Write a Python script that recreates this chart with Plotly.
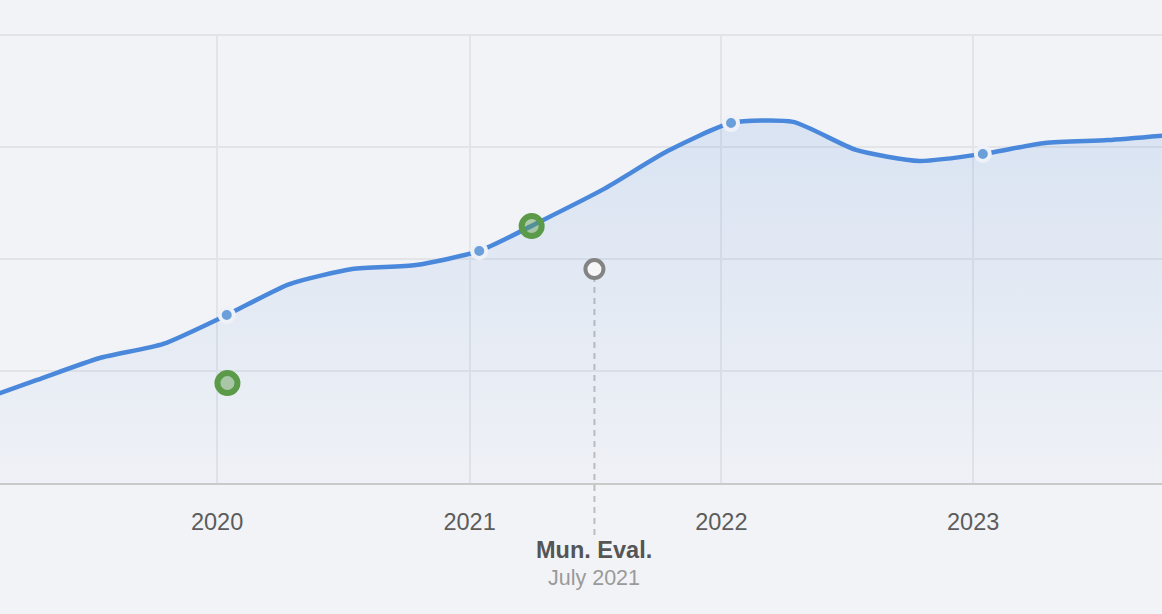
import plotly.graph_objects as go

# ---- data ----
dates = [
    "2019-01-15", "2019-04-15", "2019-07-15", "2019-10-15",
    "2020-01-15", "2020-04-15", "2020-07-15", "2020-10-15",
    "2021-01-15", "2021-04-15", "2021-07-15", "2021-10-15",
    "2022-01-15", "2022-04-15", "2022-07-15", "2022-10-15",
    "2023-01-15", "2023-04-15", "2023-07-15", "2023-10-15",
]
values = [
    36.2, 46.0, 55.8, 62.1,
    75.0, 88.8, 95.5, 97.3,
    103.6, 117.0, 131.3, 148.2,
    160.7, 161.2, 148.7, 143.8,
    146.9, 151.8, 153.1, 155.4,
]
# yearly checkpoints (January readings)
check_dates = [d for d in dates if d[5:7] == "01" and d >= "2020"]
check_values = [v for d, v in zip(dates, values) if d[5:7] == "01" and d >= "2020"]

green_dates = ["2020-01-16", "2021-04-01"]
green_values = [44.6, 114.7]

eval_date = "2021-07-01"
eval_value = 95.5
eval_label = "Mun. Eval."
eval_sub = "July 2021"

tick_vals = ["2020-01-01", "2021-01-01", "2022-01-01", "2023-01-01"]
tick_text = ["2020", "2021", "2022", "2023"]

Y_MAX = 200
X_RANGE = ["2019-02-20 07:00", "2023-10-01 18:00"]

BG = "#f2f3f6"
BLUE = "#4a88dc"
GRID = "#e2e4e8"
PLOT_H = 614 - 35 - 131  # plot area height in px

fig = go.Figure()

fig.add_trace(go.Scatter(
    x=dates, y=values, mode="lines",
    line=dict(color=BLUE, width=4.5, shape="spline", smoothing=0.6),
    fill="tozeroy",
    fillgradient=dict(
        type="vertical",
        start=0, stop=165,
        colorscale=[[0, "rgba(74,136,220,0.02)"], [1, "rgba(74,136,220,0.15)"]],
    ),
    hoverinfo="skip", showlegend=False,
))

fig.add_trace(go.Scatter(
    x=check_dates, y=check_values, mode="markers",
    marker=dict(size=14, color="#6a9fd9", line=dict(color="#eef2f8", width=4)),
    hoverinfo="skip", showlegend=False,
))

fig.add_trace(go.Scatter(
    x=green_dates, y=green_values, mode="markers",
    marker=dict(size=20, color="rgba(90,154,72,0.45)", line=dict(color="#5a9a48", width=6)),
    hoverinfo="skip", showlegend=False,
))

fig.add_trace(go.Scatter(
    x=[eval_date], y=[eval_value], mode="markers",
    marker=dict(size=18, color="#f6f6f7", line=dict(color="#838383", width=4)),
    hoverinfo="skip", showlegend=False, cliponaxis=False,
))

# top grid line at the plot edge
fig.add_shape(
    type="line", xref="paper", yref="paper", x0=0, x1=1, y0=1, y1=1,
    line=dict(color=GRID, width=2), layer="below",
)

fig.add_shape(
    type="line", xref="x", yref="paper",
    x0=eval_date, x1=eval_date,
    y0=-52 / PLOT_H, y1=eval_value / Y_MAX - 11 / PLOT_H,
    line=dict(color="#bdbdbd", width=2, dash="6px,5px"),
    layer="below",
)

fig.add_annotation(
    x=eval_date, xref="x", y=-67 / PLOT_H, yref="paper", yanchor="middle",
    text=f"<b>{eval_label}</b>", showarrow=False,
    font=dict(size=23.5, color="#555555", family="Liberation Sans, Arial, sans-serif"),
)
fig.add_annotation(
    x=eval_date, xref="x", y=-95 / PLOT_H, yref="paper", yanchor="middle",
    text=eval_sub, showarrow=False,
    font=dict(size=21.5, color="#9a9a9a", family="Liberation Sans, Arial, sans-serif"),
)

fig.update_layout(
    width=1162, height=614,
    margin=dict(l=0, r=0, t=35, b=131),
    paper_bgcolor=BG, plot_bgcolor=BG,
    font=dict(family="Liberation Sans, Arial, sans-serif"),
    xaxis=dict(
        type="date", range=X_RANGE,
        tickvals=tick_vals, ticktext=tick_text,
        showgrid=True, gridcolor=GRID, gridwidth=2,
        showline=True, linecolor="#c9c9c9", linewidth=2,
        ticks="", ticklabelstandoff=17,
        tickfont=dict(size=23.5, color="#5c5c5c"),
        zeroline=False,
    ),
    yaxis=dict(
        range=[0, Y_MAX], dtick=50, tick0=0,
        showgrid=True, gridcolor=GRID, gridwidth=2,
        showticklabels=False, zeroline=False, showline=False,
    ),
)

fig.write_html(
    "out.html",
    config={"displayModeBar": False},
    post_script="document.body.style.margin='0';document.body.style.background='%s';" % BG,
)
